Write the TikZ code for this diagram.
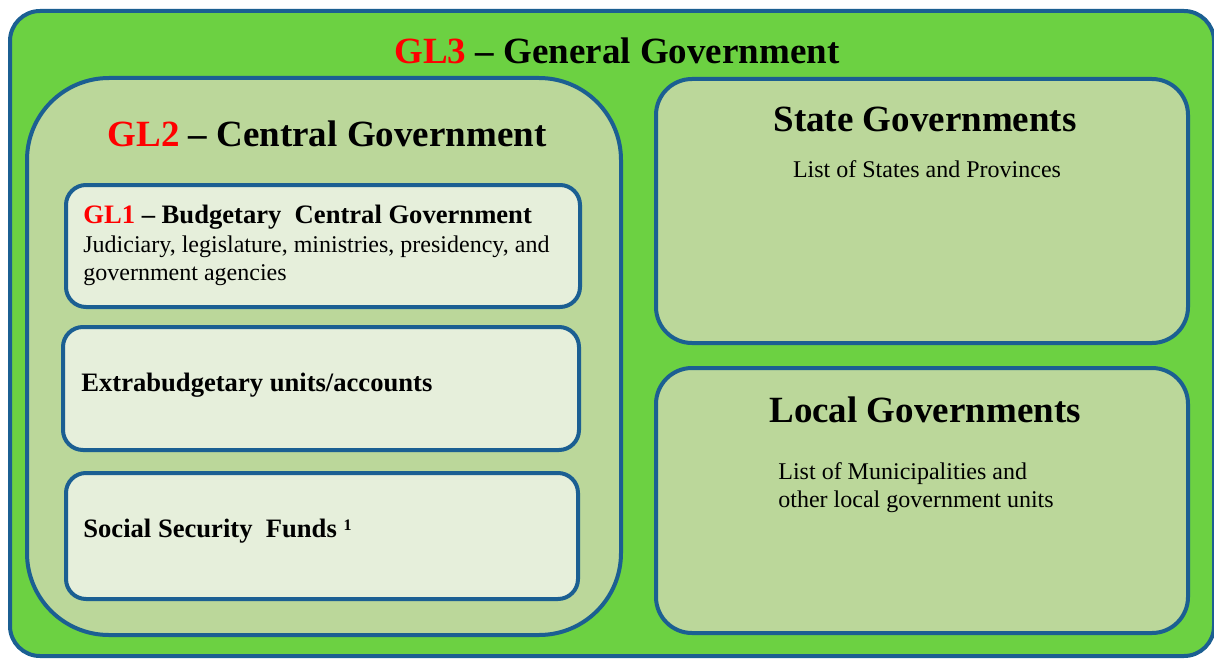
\documentclass[tikz,border=0pt]{standalone}
\usepackage{fontspec}
\setmainfont{Liberation Serif}
\definecolor{outergreen}{HTML}{6CD142}
\definecolor{midgreen}{HTML}{BBD79A}
\definecolor{lightgreen}{HTML}{E6EFDB}
\definecolor{borderblue}{HTML}{1B5F92}
\definecolor{glred}{HTML}{FF0000}
\tikzset{
  frame/.style={draw=borderblue, line width=2pt},
  bigtitle/.style={font=\bfseries\fontsize{18.5}{22}\selectfont, inner sep=0pt},
  subtitle/.style={font=\bfseries\fontsize{13.3}{16}\selectfont, inner sep=0pt, anchor=base west},
  bodytext/.style={font=\fontsize{12}{13.5}\selectfont, inner sep=0pt},
}
\newcommand{\glmark}[1]{\textcolor{glred}{#1}}
\begin{document}
\begin{tikzpicture}[x=0.5pt,y=-0.5pt]
\useasboundingbox (0,0) rectangle (1214,658);
\fill[white] (0,0) rectangle (1214,658);
% outer box
\draw[frame, fill=outergreen, rounded corners=15pt] (10,11) rectangle (1214,656);
% GL2 box
\draw[frame, fill=midgreen, rounded corners=41pt] (27,78) rectangle (621,635);
% inner boxes
\draw[frame, fill=lightgreen, rounded corners=10pt] (66,185) rectangle (580,307);
\draw[frame, fill=lightgreen, rounded corners=10pt] (63,327) rectangle (579,450);
\draw[frame, fill=lightgreen, rounded corners=10pt] (66,473) rectangle (578,599);
% state and local
\draw[frame, fill=midgreen, rounded corners=18pt] (656,79) rectangle (1188,343);
\draw[frame, fill=midgreen, rounded corners=18pt] (656,368) rectangle (1188,633);
% texts
\node[bigtitle, anchor=base] (gl3) at (617,64) {\glmark{GL3} -- General Government};
\node[bigtitle, anchor=base] (gl2) at (327,147) {\glmark{GL2} -- Central Government};
\node[subtitle] (gl1) at (83,223) {\glmark{GL1} -- Budgetary\ \ Central Government};
\node[bodytext, anchor=base west] (gl1a) at (83,252) {Judiciary, legislature, ministries, presidency, and};
\node[bodytext, anchor=base west] (gl1b) at (83,280) {government agencies};
\node[subtitle] (ebu) at (81,391) {Extrabudgetary units/accounts};
\node[subtitle] (ssf) at (83,537) {Social Security\ \ Funds \raisebox{0.55ex}{\fontsize{8}{9}\selectfont 1}};
\node[bigtitle, anchor=base] (state) at (925,132) {State Governments};
\node[bodytext, anchor=base] (statel) at (927,177) {List of States and Provinces};
\node[bigtitle, anchor=base] (local) at (925,422) {Local Governments};
\node[bodytext, anchor=base west] (locala) at (778,479) {List of Municipalities and};
\node[bodytext, anchor=base west] (localb) at (778,507) {other local government units};
\end{tikzpicture}
\end{document}
